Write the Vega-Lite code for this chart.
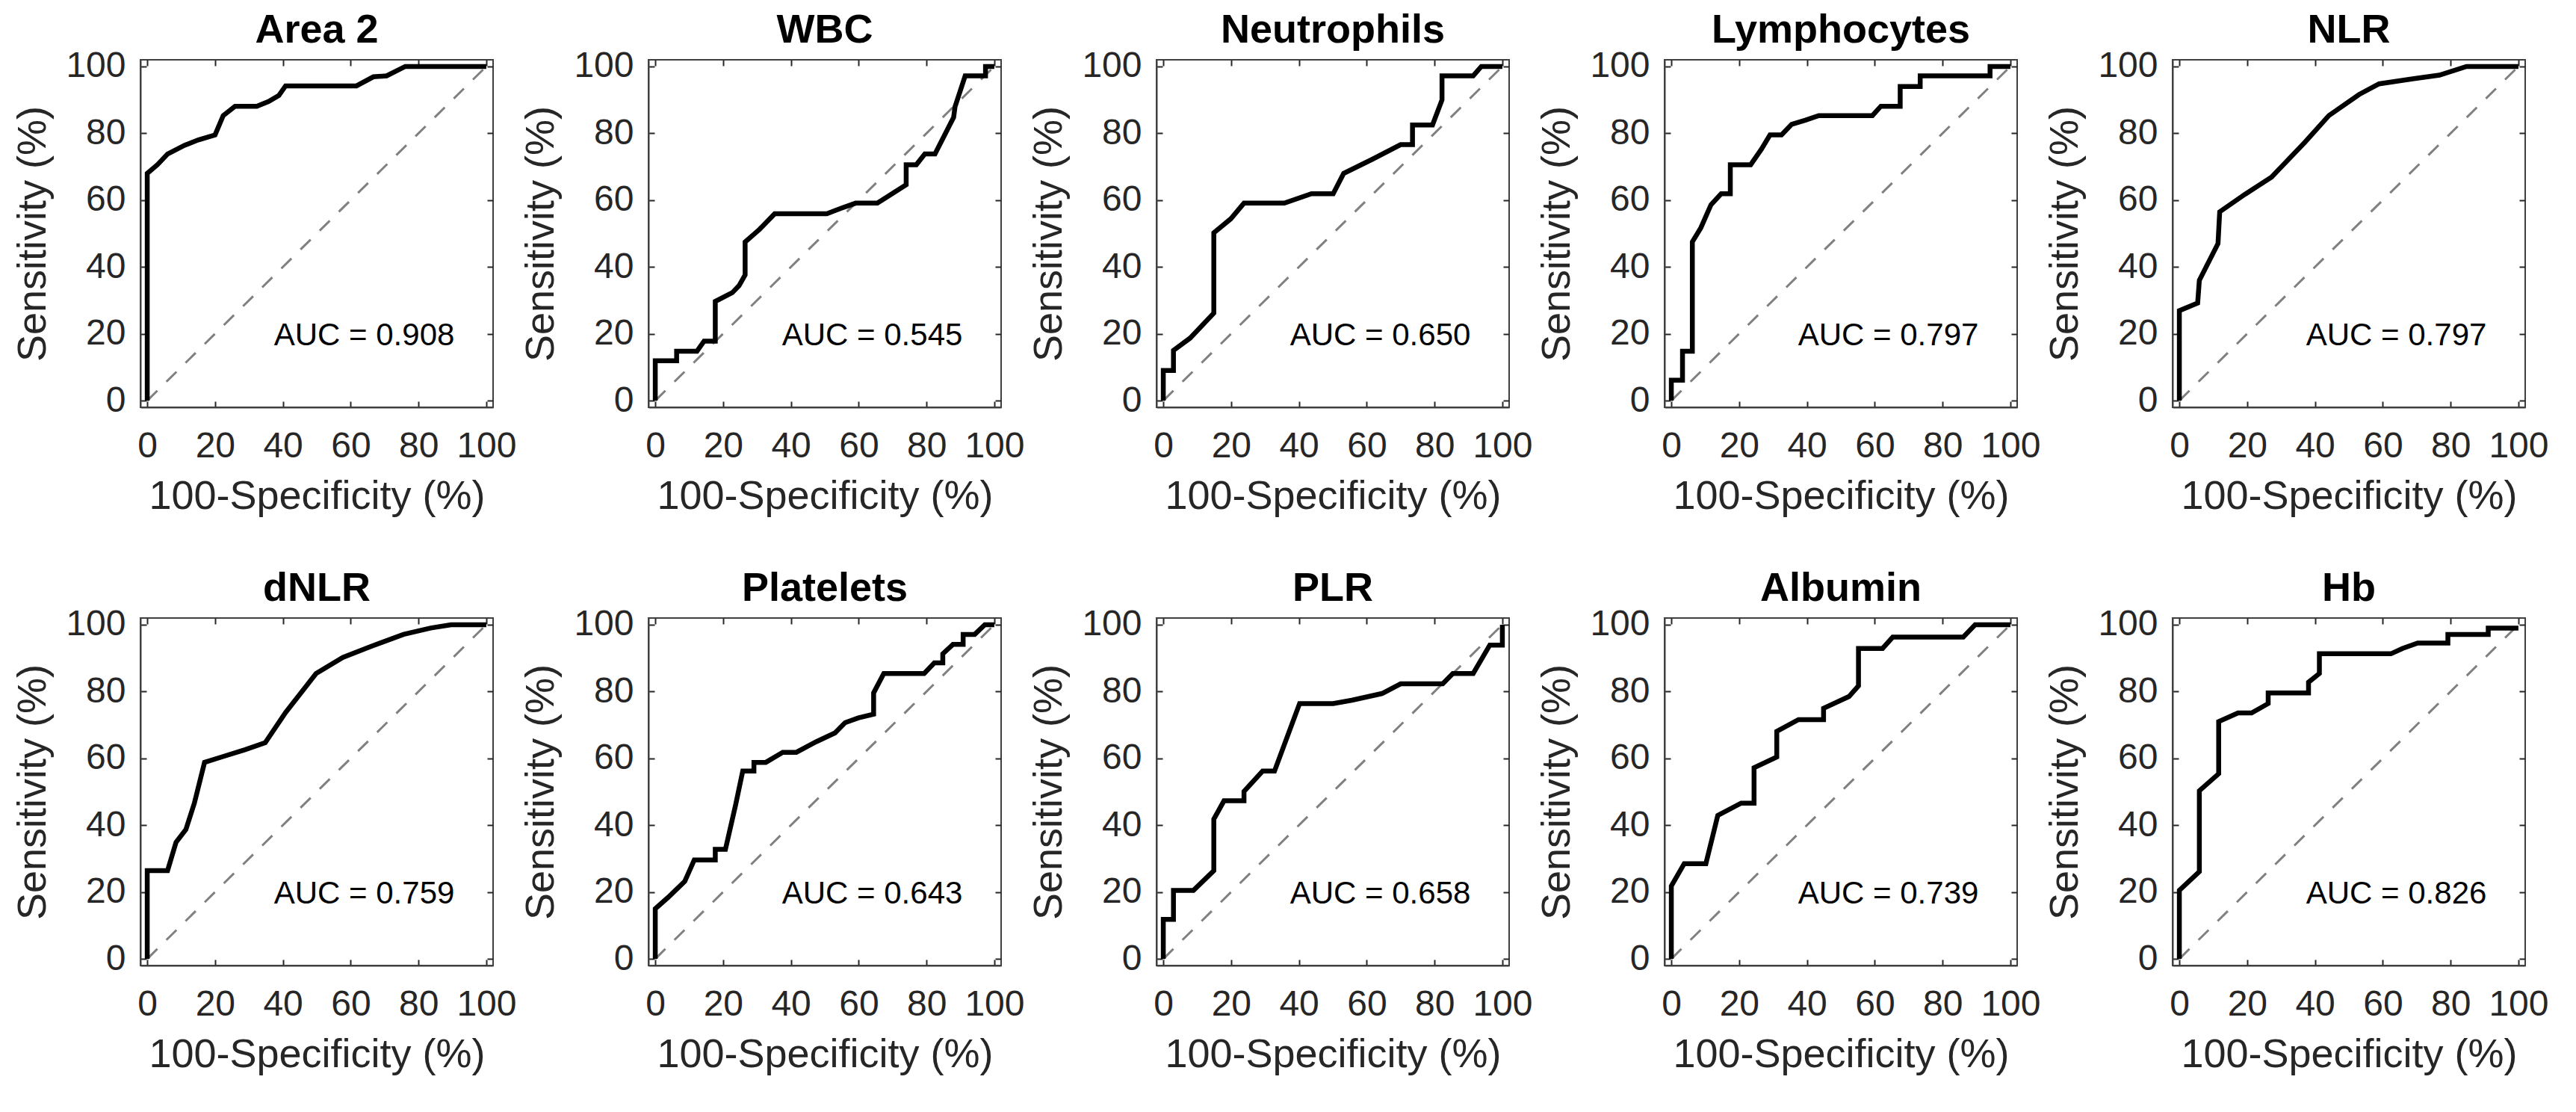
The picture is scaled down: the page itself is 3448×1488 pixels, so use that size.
{
  "$schema": "https://vega.github.io/schema/vega-lite/v6.json",
  "background": "white",
  "padding": {"left": 16, "top": 12, "right": 5, "bottom": 5},
  "datasets": {
    "auc": [
      {"p": "Area 2", "label": "AUC = 0.908"},
      {"p": "WBC", "label": "AUC = 0.545"},
      {"p": "Neutrophils", "label": "AUC = 0.650"},
      {"p": "Lymphocytes", "label": "AUC = 0.797"},
      {"p": "NLR", "label": "AUC = 0.797"},
      {"p": "dNLR", "label": "AUC = 0.759"},
      {"p": "Platelets", "label": "AUC = 0.643"},
      {"p": "PLR", "label": "AUC = 0.658"},
      {"p": "Albumin", "label": "AUC = 0.739"},
      {"p": "Hb", "label": "AUC = 0.826"}
    ],
    "roc": [
      {"p": "Area 2", "i": 0, "x": 0, "y": 0},
      {"p": "Area 2", "i": 1, "x": 0, "y": 68},
      {"p": "Area 2", "i": 2, "x": 3, "y": 70.6},
      {"p": "Area 2", "i": 3, "x": 6, "y": 73.8},
      {"p": "Area 2", "i": 4, "x": 11, "y": 76.4},
      {"p": "Area 2", "i": 5, "x": 15, "y": 78},
      {"p": "Area 2", "i": 6, "x": 20, "y": 79.5},
      {"p": "Area 2", "i": 7, "x": 22.4, "y": 85.3},
      {"p": "Area 2", "i": 8, "x": 25.9, "y": 88.1},
      {"p": "Area 2", "i": 9, "x": 32.3, "y": 88.1},
      {"p": "Area 2", "i": 10, "x": 35.8, "y": 89.5},
      {"p": "Area 2", "i": 11, "x": 38.8, "y": 91.3},
      {"p": "Area 2", "i": 12, "x": 40.8, "y": 94.2},
      {"p": "Area 2", "i": 13, "x": 61.7, "y": 94.2},
      {"p": "Area 2", "i": 14, "x": 66.7, "y": 96.9},
      {"p": "Area 2", "i": 15, "x": 70.6, "y": 97.2},
      {"p": "Area 2", "i": 16, "x": 76.1, "y": 100},
      {"p": "Area 2", "i": 17, "x": 100, "y": 100},

      {"p": "WBC", "i": 0, "x": 0, "y": 0},
      {"p": "WBC", "i": 1, "x": 0, "y": 11.9},
      {"p": "WBC", "i": 2, "x": 6.3, "y": 11.9},
      {"p": "WBC", "i": 3, "x": 6.3, "y": 14.8},
      {"p": "WBC", "i": 4, "x": 12.3, "y": 14.8},
      {"p": "WBC", "i": 5, "x": 14.4, "y": 17.8},
      {"p": "WBC", "i": 6, "x": 17.7, "y": 17.8},
      {"p": "WBC", "i": 7, "x": 17.7, "y": 29.7},
      {"p": "WBC", "i": 8, "x": 22.7, "y": 32.3},
      {"p": "WBC", "i": 9, "x": 24.7, "y": 34.4},
      {"p": "WBC", "i": 10, "x": 26.5, "y": 37.6},
      {"p": "WBC", "i": 11, "x": 26.5, "y": 47.5},
      {"p": "WBC", "i": 12, "x": 30.7, "y": 51.2},
      {"p": "WBC", "i": 13, "x": 35.2, "y": 55.9},
      {"p": "WBC", "i": 14, "x": 50.6, "y": 55.9},
      {"p": "WBC", "i": 15, "x": 54.6, "y": 57.5},
      {"p": "WBC", "i": 16, "x": 59.1, "y": 59.1},
      {"p": "WBC", "i": 17, "x": 65.5, "y": 59.1},
      {"p": "WBC", "i": 18, "x": 69.5, "y": 61.7},
      {"p": "WBC", "i": 19, "x": 74, "y": 64.6},
      {"p": "WBC", "i": 20, "x": 74, "y": 70.6},
      {"p": "WBC", "i": 21, "x": 77, "y": 70.6},
      {"p": "WBC", "i": 22, "x": 79.5, "y": 73.8},
      {"p": "WBC", "i": 23, "x": 82.5, "y": 73.8},
      {"p": "WBC", "i": 24, "x": 88, "y": 84.8},
      {"p": "WBC", "i": 25, "x": 88.4, "y": 87.9},
      {"p": "WBC", "i": 26, "x": 91.4, "y": 97.2},
      {"p": "WBC", "i": 27, "x": 97.4, "y": 97.2},
      {"p": "WBC", "i": 28, "x": 97.4, "y": 100},
      {"p": "WBC", "i": 29, "x": 100, "y": 100},

      {"p": "Neutrophils", "i": 0, "x": 0, "y": 0},
      {"p": "Neutrophils", "i": 1, "x": 0, "y": 9},
      {"p": "Neutrophils", "i": 2, "x": 3, "y": 9},
      {"p": "Neutrophils", "i": 3, "x": 3, "y": 15},
      {"p": "Neutrophils", "i": 4, "x": 7.9, "y": 18.7},
      {"p": "Neutrophils", "i": 5, "x": 14.9, "y": 26.2},
      {"p": "Neutrophils", "i": 6, "x": 14.9, "y": 50.2},
      {"p": "Neutrophils", "i": 7, "x": 19.9, "y": 54.4},
      {"p": "Neutrophils", "i": 8, "x": 23.8, "y": 59.1},
      {"p": "Neutrophils", "i": 9, "x": 35.7, "y": 59.1},
      {"p": "Neutrophils", "i": 10, "x": 43.7, "y": 61.9},
      {"p": "Neutrophils", "i": 11, "x": 50.1, "y": 61.9},
      {"p": "Neutrophils", "i": 12, "x": 53.2, "y": 68},
      {"p": "Neutrophils", "i": 13, "x": 61.6, "y": 72.2},
      {"p": "Neutrophils", "i": 14, "x": 70, "y": 76.6},
      {"p": "Neutrophils", "i": 15, "x": 73.5, "y": 76.6},
      {"p": "Neutrophils", "i": 16, "x": 73.5, "y": 82.5},
      {"p": "Neutrophils", "i": 17, "x": 79.4, "y": 82.5},
      {"p": "Neutrophils", "i": 18, "x": 82.2, "y": 90},
      {"p": "Neutrophils", "i": 19, "x": 82.2, "y": 97.2},
      {"p": "Neutrophils", "i": 20, "x": 91.4, "y": 97.2},
      {"p": "Neutrophils", "i": 21, "x": 93.8, "y": 100},
      {"p": "Neutrophils", "i": 22, "x": 100, "y": 100},

      {"p": "Lymphocytes", "i": 0, "x": 0, "y": 0},
      {"p": "Lymphocytes", "i": 1, "x": 0, "y": 6.1},
      {"p": "Lymphocytes", "i": 2, "x": 3.3, "y": 6.1},
      {"p": "Lymphocytes", "i": 3, "x": 3.3, "y": 14.8},
      {"p": "Lymphocytes", "i": 4, "x": 6.2, "y": 14.8},
      {"p": "Lymphocytes", "i": 5, "x": 6.2, "y": 47.5},
      {"p": "Lymphocytes", "i": 6, "x": 8.7, "y": 51.7},
      {"p": "Lymphocytes", "i": 7, "x": 11.7, "y": 58.6},
      {"p": "Lymphocytes", "i": 8, "x": 14.7, "y": 61.9},
      {"p": "Lymphocytes", "i": 9, "x": 17.4, "y": 61.9},
      {"p": "Lymphocytes", "i": 10, "x": 17.4, "y": 70.6},
      {"p": "Lymphocytes", "i": 11, "x": 23.4, "y": 70.6},
      {"p": "Lymphocytes", "i": 12, "x": 26.6, "y": 75.3},
      {"p": "Lymphocytes", "i": 13, "x": 29.1, "y": 79.5},
      {"p": "Lymphocytes", "i": 14, "x": 32.5, "y": 79.5},
      {"p": "Lymphocytes", "i": 15, "x": 35.5, "y": 82.7},
      {"p": "Lymphocytes", "i": 16, "x": 39.5, "y": 83.9},
      {"p": "Lymphocytes", "i": 17, "x": 43.5, "y": 85.3},
      {"p": "Lymphocytes", "i": 18, "x": 59.3, "y": 85.3},
      {"p": "Lymphocytes", "i": 19, "x": 61.8, "y": 88.1},
      {"p": "Lymphocytes", "i": 20, "x": 67.5, "y": 88.1},
      {"p": "Lymphocytes", "i": 21, "x": 67.5, "y": 94},
      {"p": "Lymphocytes", "i": 22, "x": 73.4, "y": 94},
      {"p": "Lymphocytes", "i": 23, "x": 73.4, "y": 97.2},
      {"p": "Lymphocytes", "i": 24, "x": 94, "y": 97.2},
      {"p": "Lymphocytes", "i": 25, "x": 94, "y": 100},
      {"p": "Lymphocytes", "i": 26, "x": 100, "y": 100},

      {"p": "NLR", "i": 0, "x": 0, "y": 0},
      {"p": "NLR", "i": 1, "x": 0, "y": 26.9},
      {"p": "NLR", "i": 2, "x": 5.4, "y": 29.2},
      {"p": "NLR", "i": 3, "x": 5.9, "y": 36},
      {"p": "NLR", "i": 4, "x": 11.4, "y": 47},
      {"p": "NLR", "i": 5, "x": 11.9, "y": 56.5},
      {"p": "NLR", "i": 6, "x": 19.3, "y": 61.7},
      {"p": "NLR", "i": 7, "x": 27.2, "y": 66.9},
      {"p": "NLR", "i": 8, "x": 32.2, "y": 72.2},
      {"p": "NLR", "i": 9, "x": 37.1, "y": 77.4},
      {"p": "NLR", "i": 10, "x": 44.1, "y": 85.3},
      {"p": "NLR", "i": 11, "x": 53, "y": 91.6},
      {"p": "NLR", "i": 12, "x": 58.9, "y": 94.8},
      {"p": "NLR", "i": 13, "x": 68.8, "y": 96.3},
      {"p": "NLR", "i": 14, "x": 76.7, "y": 97.4},
      {"p": "NLR", "i": 15, "x": 84.7, "y": 100},
      {"p": "NLR", "i": 16, "x": 100, "y": 100},

      {"p": "dNLR", "i": 0, "x": 0, "y": 0},
      {"p": "dNLR", "i": 1, "x": 0, "y": 26.4},
      {"p": "dNLR", "i": 2, "x": 6, "y": 26.4},
      {"p": "dNLR", "i": 3, "x": 8.5, "y": 34.9},
      {"p": "dNLR", "i": 4, "x": 11.4, "y": 38.7},
      {"p": "dNLR", "i": 5, "x": 13.9, "y": 46.6},
      {"p": "dNLR", "i": 6, "x": 16.9, "y": 58.8},
      {"p": "dNLR", "i": 7, "x": 21.9, "y": 60.4},
      {"p": "dNLR", "i": 8, "x": 28.9, "y": 62.6},
      {"p": "dNLR", "i": 9, "x": 34.8, "y": 64.7},
      {"p": "dNLR", "i": 10, "x": 40.8, "y": 73.7},
      {"p": "dNLR", "i": 11, "x": 49.8, "y": 85.4},
      {"p": "dNLR", "i": 12, "x": 57.7, "y": 90.2},
      {"p": "dNLR", "i": 13, "x": 65.7, "y": 93.4},
      {"p": "dNLR", "i": 14, "x": 75.6, "y": 97.1},
      {"p": "dNLR", "i": 15, "x": 83.6, "y": 99},
      {"p": "dNLR", "i": 16, "x": 89.6, "y": 100},
      {"p": "dNLR", "i": 17, "x": 100, "y": 100},

      {"p": "Platelets", "i": 0, "x": 0, "y": 0},
      {"p": "Platelets", "i": 1, "x": 0, "y": 15},
      {"p": "Platelets", "i": 2, "x": 3.8, "y": 18.4},
      {"p": "Platelets", "i": 3, "x": 8.7, "y": 23.2},
      {"p": "Platelets", "i": 4, "x": 11.5, "y": 29.6},
      {"p": "Platelets", "i": 5, "x": 17.7, "y": 29.6},
      {"p": "Platelets", "i": 6, "x": 17.7, "y": 32.8},
      {"p": "Platelets", "i": 7, "x": 20.7, "y": 32.8},
      {"p": "Platelets", "i": 8, "x": 23.7, "y": 46.1},
      {"p": "Platelets", "i": 9, "x": 25.8, "y": 56.2},
      {"p": "Platelets", "i": 10, "x": 29.1, "y": 56.2},
      {"p": "Platelets", "i": 11, "x": 29.1, "y": 58.8},
      {"p": "Platelets", "i": 12, "x": 32.6, "y": 58.8},
      {"p": "Platelets", "i": 13, "x": 37.6, "y": 61.8},
      {"p": "Platelets", "i": 14, "x": 41.6, "y": 61.8},
      {"p": "Platelets", "i": 15, "x": 47.5, "y": 65},
      {"p": "Platelets", "i": 16, "x": 53, "y": 67.6},
      {"p": "Platelets", "i": 17, "x": 56, "y": 70.7},
      {"p": "Platelets", "i": 18, "x": 59.9, "y": 72.1},
      {"p": "Platelets", "i": 19, "x": 64.4, "y": 73.2},
      {"p": "Platelets", "i": 20, "x": 64.4, "y": 79.6},
      {"p": "Platelets", "i": 21, "x": 67.4, "y": 85.4},
      {"p": "Platelets", "i": 22, "x": 79.3, "y": 85.4},
      {"p": "Platelets", "i": 23, "x": 82.3, "y": 88.6},
      {"p": "Platelets", "i": 24, "x": 84.8, "y": 88.6},
      {"p": "Platelets", "i": 25, "x": 84.8, "y": 91.3},
      {"p": "Platelets", "i": 26, "x": 87.8, "y": 94.1},
      {"p": "Platelets", "i": 27, "x": 90.8, "y": 94.1},
      {"p": "Platelets", "i": 28, "x": 90.8, "y": 97.1},
      {"p": "Platelets", "i": 29, "x": 94.2, "y": 97.1},
      {"p": "Platelets", "i": 30, "x": 97.2, "y": 100},
      {"p": "Platelets", "i": 31, "x": 100, "y": 100},

      {"p": "PLR", "i": 0, "x": 0, "y": 0},
      {"p": "PLR", "i": 1, "x": 0, "y": 11.8},
      {"p": "PLR", "i": 2, "x": 3, "y": 11.8},
      {"p": "PLR", "i": 3, "x": 3, "y": 20.5},
      {"p": "PLR", "i": 4, "x": 8.9, "y": 20.5},
      {"p": "PLR", "i": 5, "x": 14.9, "y": 26.4},
      {"p": "PLR", "i": 6, "x": 14.9, "y": 41.8},
      {"p": "PLR", "i": 7, "x": 17.9, "y": 47.3},
      {"p": "PLR", "i": 8, "x": 23.8, "y": 47.3},
      {"p": "PLR", "i": 9, "x": 23.8, "y": 50.1},
      {"p": "PLR", "i": 10, "x": 29.3, "y": 56.2},
      {"p": "PLR", "i": 11, "x": 32.8, "y": 56.2},
      {"p": "PLR", "i": 12, "x": 40.2, "y": 76.4},
      {"p": "PLR", "i": 13, "x": 50.1, "y": 76.4},
      {"p": "PLR", "i": 14, "x": 55.6, "y": 77.4},
      {"p": "PLR", "i": 15, "x": 64.5, "y": 79.4},
      {"p": "PLR", "i": 16, "x": 70, "y": 82.3},
      {"p": "PLR", "i": 17, "x": 82.4, "y": 82.3},
      {"p": "PLR", "i": 18, "x": 85.4, "y": 85.4},
      {"p": "PLR", "i": 19, "x": 91.4, "y": 85.4},
      {"p": "PLR", "i": 20, "x": 96.3, "y": 93.9},
      {"p": "PLR", "i": 21, "x": 100, "y": 93.9},
      {"p": "PLR", "i": 22, "x": 100, "y": 100},

      {"p": "Albumin", "i": 0, "x": 0, "y": 0},
      {"p": "Albumin", "i": 1, "x": 0, "y": 21.8},
      {"p": "Albumin", "i": 2, "x": 3.8, "y": 28.5},
      {"p": "Albumin", "i": 3, "x": 10.2, "y": 28.5},
      {"p": "Albumin", "i": 4, "x": 13.7, "y": 42.9},
      {"p": "Albumin", "i": 5, "x": 20.6, "y": 46.6},
      {"p": "Albumin", "i": 6, "x": 24.4, "y": 46.6},
      {"p": "Albumin", "i": 7, "x": 24.4, "y": 57.2},
      {"p": "Albumin", "i": 8, "x": 31.1, "y": 60.4},
      {"p": "Albumin", "i": 9, "x": 31.1, "y": 68.1},
      {"p": "Albumin", "i": 10, "x": 37.5, "y": 71.6},
      {"p": "Albumin", "i": 11, "x": 44.9, "y": 71.6},
      {"p": "Albumin", "i": 12, "x": 44.9, "y": 75},
      {"p": "Albumin", "i": 13, "x": 52.4, "y": 78.5},
      {"p": "Albumin", "i": 14, "x": 55.2, "y": 81.7},
      {"p": "Albumin", "i": 15, "x": 55.2, "y": 92.9},
      {"p": "Albumin", "i": 16, "x": 62.3, "y": 92.9},
      {"p": "Albumin", "i": 17, "x": 65.3, "y": 96.3},
      {"p": "Albumin", "i": 18, "x": 86.1, "y": 96.3},
      {"p": "Albumin", "i": 19, "x": 89.6, "y": 100},
      {"p": "Albumin", "i": 20, "x": 100, "y": 100},

      {"p": "Hb", "i": 0, "x": 0, "y": 0},
      {"p": "Hb", "i": 1, "x": 0, "y": 20.5},
      {"p": "Hb", "i": 2, "x": 5.9, "y": 26.1},
      {"p": "Hb", "i": 3, "x": 5.9, "y": 50.3},
      {"p": "Hb", "i": 4, "x": 11.6, "y": 55.4},
      {"p": "Hb", "i": 5, "x": 11.6, "y": 71},
      {"p": "Hb", "i": 6, "x": 17.3, "y": 73.6},
      {"p": "Hb", "i": 7, "x": 21.3, "y": 73.6},
      {"p": "Hb", "i": 8, "x": 26.2, "y": 76.4},
      {"p": "Hb", "i": 9, "x": 26.2, "y": 79.6},
      {"p": "Hb", "i": 10, "x": 38.1, "y": 79.6},
      {"p": "Hb", "i": 11, "x": 38.1, "y": 82.8},
      {"p": "Hb", "i": 12, "x": 41.3, "y": 85.4},
      {"p": "Hb", "i": 13, "x": 41.3, "y": 91.3},
      {"p": "Hb", "i": 14, "x": 62.4, "y": 91.3},
      {"p": "Hb", "i": 15, "x": 65.8, "y": 92.9},
      {"p": "Hb", "i": 16, "x": 70.3, "y": 94.5},
      {"p": "Hb", "i": 17, "x": 79.2, "y": 94.5},
      {"p": "Hb", "i": 18, "x": 79.2, "y": 97.1},
      {"p": "Hb", "i": 19, "x": 91.1, "y": 97.1},
      {"p": "Hb", "i": 20, "x": 91.1, "y": 99},
      {"p": "Hb", "i": 21, "x": 100, "y": 99}
    ]
  },
  "columns": 5,
  "bounds": "flush",
  "spacing": {"row": 282, "column": 208},
  "concat": [
    {"title": "Area 2", "width": 472, "height": 465, "layer": [
      {"data": {"name": "auc"}, "transform": [{"filter": "datum.p == 'Area 2'"}], "mark": {"type": "rule", "color": "#808080", "strokeDash": [19, 17], "strokeWidth": 3}, "encoding": {"x": {"datum": 0, "type": "quantitative", "scale": {"domain": [-2, 102], "nice": false, "zero": false}, "axis": {"orient": "top", "values": [0, 20, 40, 60, 80, 100], "labels": false, "title": null, "domain": false, "minExtent": 0}}, "y": {"datum": 0, "type": "quantitative", "scale": {"domain": [-2, 102], "nice": false, "zero": false}, "axis": {"orient": "right", "values": [0, 20, 40, 60, 80, 100], "labels": false, "title": null, "domain": false, "minExtent": 0}}, "x2": {"datum": 100}, "y2": {"datum": 100}}},
      {"data": {"name": "roc"}, "transform": [{"filter": "datum.p == 'Area 2'"}], "mark": {"type": "line", "color": "#000000", "strokeWidth": 6.5}, "encoding": {"x": {"field": "x", "type": "quantitative", "scale": {"domain": [-2, 102], "nice": false, "zero": false}, "axis": {"orient": "bottom", "values": [0, 20, 40, 60, 80, 100], "title": "100-Specificity (%)"}}, "y": {"field": "y", "type": "quantitative", "scale": {"domain": [-2, 102], "nice": false, "zero": false}, "axis": {"orient": "left", "values": [0, 20, 40, 60, 80, 100], "title": "Sensitivity (%)"}}, "order": {"field": "i"}}},
      {"data": {"name": "auc"}, "transform": [{"filter": "datum.p == 'Area 2'"}], "mark": {"type": "text", "font": "Liberation Sans", "fontSize": 42, "color": "#000000", "baseline": "middle", "align": "center"}, "encoding": {"x": {"datum": 64, "type": "quantitative", "axis": null}, "y": {"datum": 19.5, "type": "quantitative", "axis": null}, "text": {"field": "label"}}}
    ]},
    {"title": "WBC", "width": 472, "height": 465, "layer": [
      {"data": {"name": "auc"}, "transform": [{"filter": "datum.p == 'WBC'"}], "mark": {"type": "rule", "color": "#808080", "strokeDash": [19, 17], "strokeWidth": 3}, "encoding": {"x": {"datum": 0, "type": "quantitative", "scale": {"domain": [-2, 102], "nice": false, "zero": false}, "axis": {"orient": "top", "values": [0, 20, 40, 60, 80, 100], "labels": false, "title": null, "domain": false, "minExtent": 0}}, "y": {"datum": 0, "type": "quantitative", "scale": {"domain": [-2, 102], "nice": false, "zero": false}, "axis": {"orient": "right", "values": [0, 20, 40, 60, 80, 100], "labels": false, "title": null, "domain": false, "minExtent": 0}}, "x2": {"datum": 100}, "y2": {"datum": 100}}},
      {"data": {"name": "roc"}, "transform": [{"filter": "datum.p == 'WBC'"}], "mark": {"type": "line", "color": "#000000", "strokeWidth": 6.5}, "encoding": {"x": {"field": "x", "type": "quantitative", "scale": {"domain": [-2, 102], "nice": false, "zero": false}, "axis": {"orient": "bottom", "values": [0, 20, 40, 60, 80, 100], "title": "100-Specificity (%)"}}, "y": {"field": "y", "type": "quantitative", "scale": {"domain": [-2, 102], "nice": false, "zero": false}, "axis": {"orient": "left", "values": [0, 20, 40, 60, 80, 100], "title": "Sensitivity (%)"}}, "order": {"field": "i"}}},
      {"data": {"name": "auc"}, "transform": [{"filter": "datum.p == 'WBC'"}], "mark": {"type": "text", "font": "Liberation Sans", "fontSize": 42, "color": "#000000", "baseline": "middle", "align": "center"}, "encoding": {"x": {"datum": 64, "type": "quantitative", "axis": null}, "y": {"datum": 19.5, "type": "quantitative", "axis": null}, "text": {"field": "label"}}}
    ]},
    {"title": "Neutrophils", "width": 472, "height": 465, "layer": [
      {"data": {"name": "auc"}, "transform": [{"filter": "datum.p == 'Neutrophils'"}], "mark": {"type": "rule", "color": "#808080", "strokeDash": [19, 17], "strokeWidth": 3}, "encoding": {"x": {"datum": 0, "type": "quantitative", "scale": {"domain": [-2, 102], "nice": false, "zero": false}, "axis": {"orient": "top", "values": [0, 20, 40, 60, 80, 100], "labels": false, "title": null, "domain": false, "minExtent": 0}}, "y": {"datum": 0, "type": "quantitative", "scale": {"domain": [-2, 102], "nice": false, "zero": false}, "axis": {"orient": "right", "values": [0, 20, 40, 60, 80, 100], "labels": false, "title": null, "domain": false, "minExtent": 0}}, "x2": {"datum": 100}, "y2": {"datum": 100}}},
      {"data": {"name": "roc"}, "transform": [{"filter": "datum.p == 'Neutrophils'"}], "mark": {"type": "line", "color": "#000000", "strokeWidth": 6.5}, "encoding": {"x": {"field": "x", "type": "quantitative", "scale": {"domain": [-2, 102], "nice": false, "zero": false}, "axis": {"orient": "bottom", "values": [0, 20, 40, 60, 80, 100], "title": "100-Specificity (%)"}}, "y": {"field": "y", "type": "quantitative", "scale": {"domain": [-2, 102], "nice": false, "zero": false}, "axis": {"orient": "left", "values": [0, 20, 40, 60, 80, 100], "title": "Sensitivity (%)"}}, "order": {"field": "i"}}},
      {"data": {"name": "auc"}, "transform": [{"filter": "datum.p == 'Neutrophils'"}], "mark": {"type": "text", "font": "Liberation Sans", "fontSize": 42, "color": "#000000", "baseline": "middle", "align": "center"}, "encoding": {"x": {"datum": 64, "type": "quantitative", "axis": null}, "y": {"datum": 19.5, "type": "quantitative", "axis": null}, "text": {"field": "label"}}}
    ]},
    {"title": "Lymphocytes", "width": 472, "height": 465, "layer": [
      {"data": {"name": "auc"}, "transform": [{"filter": "datum.p == 'Lymphocytes'"}], "mark": {"type": "rule", "color": "#808080", "strokeDash": [19, 17], "strokeWidth": 3}, "encoding": {"x": {"datum": 0, "type": "quantitative", "scale": {"domain": [-2, 102], "nice": false, "zero": false}, "axis": {"orient": "top", "values": [0, 20, 40, 60, 80, 100], "labels": false, "title": null, "domain": false, "minExtent": 0}}, "y": {"datum": 0, "type": "quantitative", "scale": {"domain": [-2, 102], "nice": false, "zero": false}, "axis": {"orient": "right", "values": [0, 20, 40, 60, 80, 100], "labels": false, "title": null, "domain": false, "minExtent": 0}}, "x2": {"datum": 100}, "y2": {"datum": 100}}},
      {"data": {"name": "roc"}, "transform": [{"filter": "datum.p == 'Lymphocytes'"}], "mark": {"type": "line", "color": "#000000", "strokeWidth": 6.5}, "encoding": {"x": {"field": "x", "type": "quantitative", "scale": {"domain": [-2, 102], "nice": false, "zero": false}, "axis": {"orient": "bottom", "values": [0, 20, 40, 60, 80, 100], "title": "100-Specificity (%)"}}, "y": {"field": "y", "type": "quantitative", "scale": {"domain": [-2, 102], "nice": false, "zero": false}, "axis": {"orient": "left", "values": [0, 20, 40, 60, 80, 100], "title": "Sensitivity (%)"}}, "order": {"field": "i"}}},
      {"data": {"name": "auc"}, "transform": [{"filter": "datum.p == 'Lymphocytes'"}], "mark": {"type": "text", "font": "Liberation Sans", "fontSize": 42, "color": "#000000", "baseline": "middle", "align": "center"}, "encoding": {"x": {"datum": 64, "type": "quantitative", "axis": null}, "y": {"datum": 19.5, "type": "quantitative", "axis": null}, "text": {"field": "label"}}}
    ]},
    {"title": "NLR", "width": 472, "height": 465, "layer": [
      {"data": {"name": "auc"}, "transform": [{"filter": "datum.p == 'NLR'"}], "mark": {"type": "rule", "color": "#808080", "strokeDash": [19, 17], "strokeWidth": 3}, "encoding": {"x": {"datum": 0, "type": "quantitative", "scale": {"domain": [-2, 102], "nice": false, "zero": false}, "axis": {"orient": "top", "values": [0, 20, 40, 60, 80, 100], "labels": false, "title": null, "domain": false, "minExtent": 0}}, "y": {"datum": 0, "type": "quantitative", "scale": {"domain": [-2, 102], "nice": false, "zero": false}, "axis": {"orient": "right", "values": [0, 20, 40, 60, 80, 100], "labels": false, "title": null, "domain": false, "minExtent": 0}}, "x2": {"datum": 100}, "y2": {"datum": 100}}},
      {"data": {"name": "roc"}, "transform": [{"filter": "datum.p == 'NLR'"}], "mark": {"type": "line", "color": "#000000", "strokeWidth": 6.5}, "encoding": {"x": {"field": "x", "type": "quantitative", "scale": {"domain": [-2, 102], "nice": false, "zero": false}, "axis": {"orient": "bottom", "values": [0, 20, 40, 60, 80, 100], "title": "100-Specificity (%)"}}, "y": {"field": "y", "type": "quantitative", "scale": {"domain": [-2, 102], "nice": false, "zero": false}, "axis": {"orient": "left", "values": [0, 20, 40, 60, 80, 100], "title": "Sensitivity (%)"}}, "order": {"field": "i"}}},
      {"data": {"name": "auc"}, "transform": [{"filter": "datum.p == 'NLR'"}], "mark": {"type": "text", "font": "Liberation Sans", "fontSize": 42, "color": "#000000", "baseline": "middle", "align": "center"}, "encoding": {"x": {"datum": 64, "type": "quantitative", "axis": null}, "y": {"datum": 19.5, "type": "quantitative", "axis": null}, "text": {"field": "label"}}}
    ]},
    {"title": "dNLR", "width": 472, "height": 465, "layer": [
      {"data": {"name": "auc"}, "transform": [{"filter": "datum.p == 'dNLR'"}], "mark": {"type": "rule", "color": "#808080", "strokeDash": [19, 17], "strokeWidth": 3}, "encoding": {"x": {"datum": 0, "type": "quantitative", "scale": {"domain": [-2, 102], "nice": false, "zero": false}, "axis": {"orient": "top", "values": [0, 20, 40, 60, 80, 100], "labels": false, "title": null, "domain": false, "minExtent": 0}}, "y": {"datum": 0, "type": "quantitative", "scale": {"domain": [-2, 102], "nice": false, "zero": false}, "axis": {"orient": "right", "values": [0, 20, 40, 60, 80, 100], "labels": false, "title": null, "domain": false, "minExtent": 0}}, "x2": {"datum": 100}, "y2": {"datum": 100}}},
      {"data": {"name": "roc"}, "transform": [{"filter": "datum.p == 'dNLR'"}], "mark": {"type": "line", "color": "#000000", "strokeWidth": 6.5}, "encoding": {"x": {"field": "x", "type": "quantitative", "scale": {"domain": [-2, 102], "nice": false, "zero": false}, "axis": {"orient": "bottom", "values": [0, 20, 40, 60, 80, 100], "title": "100-Specificity (%)"}}, "y": {"field": "y", "type": "quantitative", "scale": {"domain": [-2, 102], "nice": false, "zero": false}, "axis": {"orient": "left", "values": [0, 20, 40, 60, 80, 100], "title": "Sensitivity (%)"}}, "order": {"field": "i"}}},
      {"data": {"name": "auc"}, "transform": [{"filter": "datum.p == 'dNLR'"}], "mark": {"type": "text", "font": "Liberation Sans", "fontSize": 42, "color": "#000000", "baseline": "middle", "align": "center"}, "encoding": {"x": {"datum": 64, "type": "quantitative", "axis": null}, "y": {"datum": 19.5, "type": "quantitative", "axis": null}, "text": {"field": "label"}}}
    ]},
    {"title": "Platelets", "width": 472, "height": 465, "layer": [
      {"data": {"name": "auc"}, "transform": [{"filter": "datum.p == 'Platelets'"}], "mark": {"type": "rule", "color": "#808080", "strokeDash": [19, 17], "strokeWidth": 3}, "encoding": {"x": {"datum": 0, "type": "quantitative", "scale": {"domain": [-2, 102], "nice": false, "zero": false}, "axis": {"orient": "top", "values": [0, 20, 40, 60, 80, 100], "labels": false, "title": null, "domain": false, "minExtent": 0}}, "y": {"datum": 0, "type": "quantitative", "scale": {"domain": [-2, 102], "nice": false, "zero": false}, "axis": {"orient": "right", "values": [0, 20, 40, 60, 80, 100], "labels": false, "title": null, "domain": false, "minExtent": 0}}, "x2": {"datum": 100}, "y2": {"datum": 100}}},
      {"data": {"name": "roc"}, "transform": [{"filter": "datum.p == 'Platelets'"}], "mark": {"type": "line", "color": "#000000", "strokeWidth": 6.5}, "encoding": {"x": {"field": "x", "type": "quantitative", "scale": {"domain": [-2, 102], "nice": false, "zero": false}, "axis": {"orient": "bottom", "values": [0, 20, 40, 60, 80, 100], "title": "100-Specificity (%)"}}, "y": {"field": "y", "type": "quantitative", "scale": {"domain": [-2, 102], "nice": false, "zero": false}, "axis": {"orient": "left", "values": [0, 20, 40, 60, 80, 100], "title": "Sensitivity (%)"}}, "order": {"field": "i"}}},
      {"data": {"name": "auc"}, "transform": [{"filter": "datum.p == 'Platelets'"}], "mark": {"type": "text", "font": "Liberation Sans", "fontSize": 42, "color": "#000000", "baseline": "middle", "align": "center"}, "encoding": {"x": {"datum": 64, "type": "quantitative", "axis": null}, "y": {"datum": 19.5, "type": "quantitative", "axis": null}, "text": {"field": "label"}}}
    ]},
    {"title": "PLR", "width": 472, "height": 465, "layer": [
      {"data": {"name": "auc"}, "transform": [{"filter": "datum.p == 'PLR'"}], "mark": {"type": "rule", "color": "#808080", "strokeDash": [19, 17], "strokeWidth": 3}, "encoding": {"x": {"datum": 0, "type": "quantitative", "scale": {"domain": [-2, 102], "nice": false, "zero": false}, "axis": {"orient": "top", "values": [0, 20, 40, 60, 80, 100], "labels": false, "title": null, "domain": false, "minExtent": 0}}, "y": {"datum": 0, "type": "quantitative", "scale": {"domain": [-2, 102], "nice": false, "zero": false}, "axis": {"orient": "right", "values": [0, 20, 40, 60, 80, 100], "labels": false, "title": null, "domain": false, "minExtent": 0}}, "x2": {"datum": 100}, "y2": {"datum": 100}}},
      {"data": {"name": "roc"}, "transform": [{"filter": "datum.p == 'PLR'"}], "mark": {"type": "line", "color": "#000000", "strokeWidth": 6.5}, "encoding": {"x": {"field": "x", "type": "quantitative", "scale": {"domain": [-2, 102], "nice": false, "zero": false}, "axis": {"orient": "bottom", "values": [0, 20, 40, 60, 80, 100], "title": "100-Specificity (%)"}}, "y": {"field": "y", "type": "quantitative", "scale": {"domain": [-2, 102], "nice": false, "zero": false}, "axis": {"orient": "left", "values": [0, 20, 40, 60, 80, 100], "title": "Sensitivity (%)"}}, "order": {"field": "i"}}},
      {"data": {"name": "auc"}, "transform": [{"filter": "datum.p == 'PLR'"}], "mark": {"type": "text", "font": "Liberation Sans", "fontSize": 42, "color": "#000000", "baseline": "middle", "align": "center"}, "encoding": {"x": {"datum": 64, "type": "quantitative", "axis": null}, "y": {"datum": 19.5, "type": "quantitative", "axis": null}, "text": {"field": "label"}}}
    ]},
    {"title": "Albumin", "width": 472, "height": 465, "layer": [
      {"data": {"name": "auc"}, "transform": [{"filter": "datum.p == 'Albumin'"}], "mark": {"type": "rule", "color": "#808080", "strokeDash": [19, 17], "strokeWidth": 3}, "encoding": {"x": {"datum": 0, "type": "quantitative", "scale": {"domain": [-2, 102], "nice": false, "zero": false}, "axis": {"orient": "top", "values": [0, 20, 40, 60, 80, 100], "labels": false, "title": null, "domain": false, "minExtent": 0}}, "y": {"datum": 0, "type": "quantitative", "scale": {"domain": [-2, 102], "nice": false, "zero": false}, "axis": {"orient": "right", "values": [0, 20, 40, 60, 80, 100], "labels": false, "title": null, "domain": false, "minExtent": 0}}, "x2": {"datum": 100}, "y2": {"datum": 100}}},
      {"data": {"name": "roc"}, "transform": [{"filter": "datum.p == 'Albumin'"}], "mark": {"type": "line", "color": "#000000", "strokeWidth": 6.5}, "encoding": {"x": {"field": "x", "type": "quantitative", "scale": {"domain": [-2, 102], "nice": false, "zero": false}, "axis": {"orient": "bottom", "values": [0, 20, 40, 60, 80, 100], "title": "100-Specificity (%)"}}, "y": {"field": "y", "type": "quantitative", "scale": {"domain": [-2, 102], "nice": false, "zero": false}, "axis": {"orient": "left", "values": [0, 20, 40, 60, 80, 100], "title": "Sensitivity (%)"}}, "order": {"field": "i"}}},
      {"data": {"name": "auc"}, "transform": [{"filter": "datum.p == 'Albumin'"}], "mark": {"type": "text", "font": "Liberation Sans", "fontSize": 42, "color": "#000000", "baseline": "middle", "align": "center"}, "encoding": {"x": {"datum": 64, "type": "quantitative", "axis": null}, "y": {"datum": 19.5, "type": "quantitative", "axis": null}, "text": {"field": "label"}}}
    ]},
    {"title": "Hb", "width": 472, "height": 465, "layer": [
      {"data": {"name": "auc"}, "transform": [{"filter": "datum.p == 'Hb'"}], "mark": {"type": "rule", "color": "#808080", "strokeDash": [19, 17], "strokeWidth": 3}, "encoding": {"x": {"datum": 0, "type": "quantitative", "scale": {"domain": [-2, 102], "nice": false, "zero": false}, "axis": {"orient": "top", "values": [0, 20, 40, 60, 80, 100], "labels": false, "title": null, "domain": false, "minExtent": 0}}, "y": {"datum": 0, "type": "quantitative", "scale": {"domain": [-2, 102], "nice": false, "zero": false}, "axis": {"orient": "right", "values": [0, 20, 40, 60, 80, 100], "labels": false, "title": null, "domain": false, "minExtent": 0}}, "x2": {"datum": 100}, "y2": {"datum": 100}}},
      {"data": {"name": "roc"}, "transform": [{"filter": "datum.p == 'Hb'"}], "mark": {"type": "line", "color": "#000000", "strokeWidth": 6.5}, "encoding": {"x": {"field": "x", "type": "quantitative", "scale": {"domain": [-2, 102], "nice": false, "zero": false}, "axis": {"orient": "bottom", "values": [0, 20, 40, 60, 80, 100], "title": "100-Specificity (%)"}}, "y": {"field": "y", "type": "quantitative", "scale": {"domain": [-2, 102], "nice": false, "zero": false}, "axis": {"orient": "left", "values": [0, 20, 40, 60, 80, 100], "title": "Sensitivity (%)"}}, "order": {"field": "i"}}},
      {"data": {"name": "auc"}, "transform": [{"filter": "datum.p == 'Hb'"}], "mark": {"type": "text", "font": "Liberation Sans", "fontSize": 42, "color": "#000000", "baseline": "middle", "align": "center"}, "encoding": {"x": {"datum": 64, "type": "quantitative", "axis": null}, "y": {"datum": 19.5, "type": "quantitative", "axis": null}, "text": {"field": "label"}}}
    ]}
  ],
  "config": {
    "font": "Liberation Sans",
    "view": {"stroke": "#404040", "strokeWidth": 2},
    "title": {"font": "Liberation Sans", "fontSize": 54, "fontWeight": "bold", "color": "#000000", "anchor": "middle", "frame": "group", "baseline": "alphabetic", "offset": -3},
    "axis": {
      "grid": false,
      "labelFont": "Liberation Sans",
      "labelFontSize": 48,
      "labelColor": "#262626",
      "titleFont": "Liberation Sans",
      "titleFontSize": 54,
      "titleFontWeight": "normal",
      "titleColor": "#262626",
      "tickSize": -8,
      "tickWidth": 2,
      "tickColor": "#262626",
      "domainColor": "#404040",
      "domainWidth": 2,
      "labelOverlap": false,
      "labelFlush": false
    },
    "axisBottom": {"labelPadding": 36, "titlePadding": 16},
    "axisLeft": {"labelPadding": 28, "titlePadding": 16}
  }
}
